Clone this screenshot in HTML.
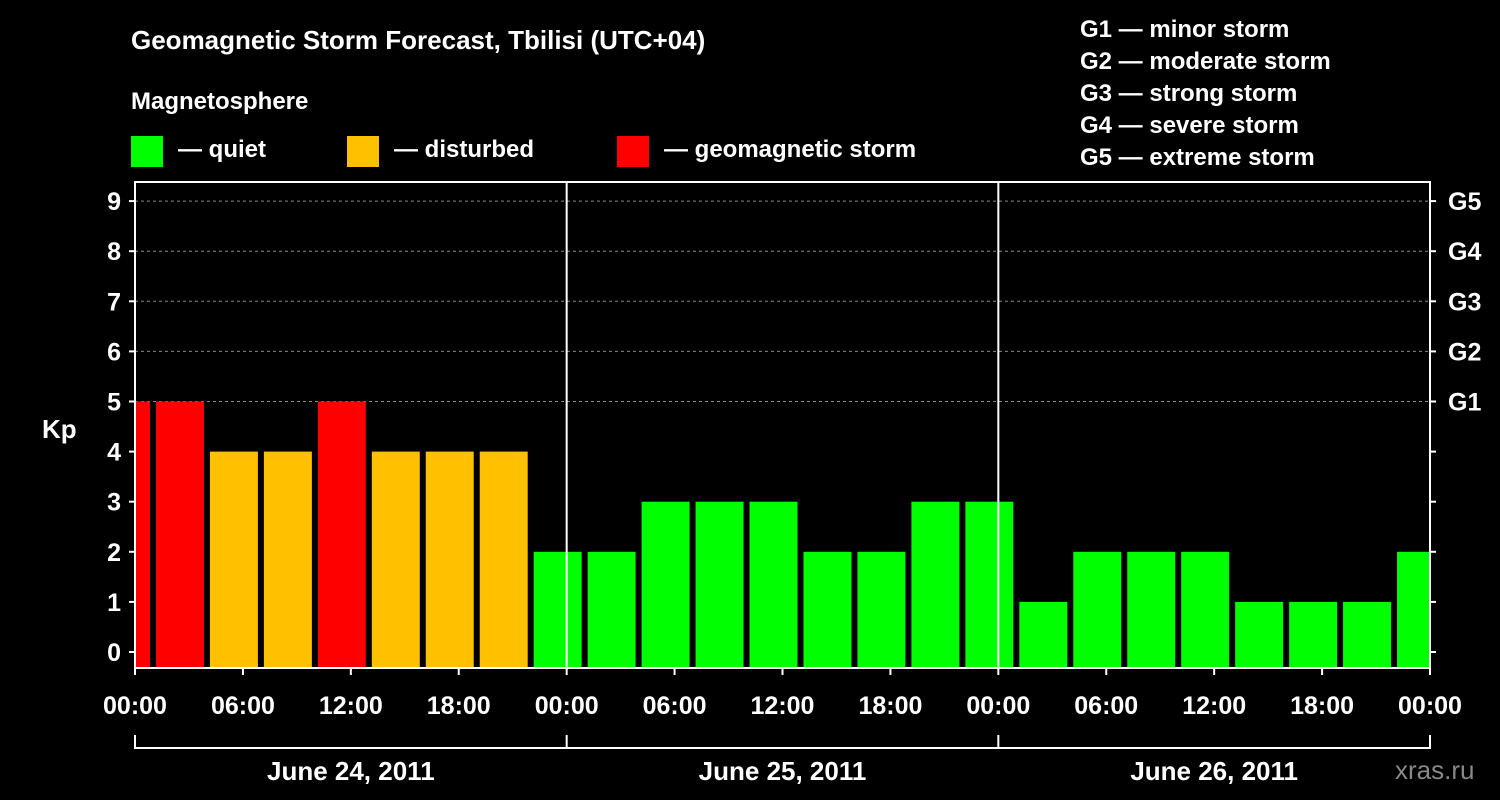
<!DOCTYPE html>
<html><head><meta charset="utf-8"><style>
html,body{margin:0;padding:0;background:#000;}
svg{display:block;font-family:"Liberation Sans",Arial,sans-serif;font-weight:bold;}
</style></head><body>
<svg id="chart" width="1500" height="800" viewBox="0 0 1500 800" xmlns="http://www.w3.org/2000/svg">
<rect width="1500" height="800" fill="#000"/>
<text x="131" y="49" fill="#fff" font-size="26">Geomagnetic Storm Forecast, Tbilisi (UTC+04)</text>
<text x="131" y="109" fill="#fff" font-size="24">Magnetosphere</text>
<g><rect x="131" y="136" width="32" height="31" fill="#00ff00"/><text x="178" y="157" fill="#fff" font-size="24">— quiet</text></g>
<g><rect x="347" y="136" width="32" height="31" fill="#ffc000"/><text x="394" y="157" fill="#fff" font-size="24">— disturbed</text></g>
<g><rect x="617" y="136" width="32" height="31" fill="#ff0000"/><text x="664" y="157" fill="#fff" font-size="24">— geomagnetic storm</text></g>
<g fill="#fff" font-size="24">
<text x="1080" y="37">G1 — minor storm</text>
<text x="1080" y="69">G2 — moderate storm</text>
<text x="1080" y="101">G3 — strong storm</text>
<text x="1080" y="133">G4 — severe storm</text>
<text x="1080" y="165">G5 — extreme storm</text>
</g>
<text x="42" y="438" fill="#fff" font-size="26">Kp</text>
<g id="grid"></g><g id="bars"></g><g id="axes"></g>
<text x="1395" y="779" fill="#888" font-size="26" font-weight="normal">xras.ru</text>
</svg>
<script>
const kpValues=[5,5,4,4,5,4,4,4,2,2,3,3,3,2,2,3,3,1,2,2,2,1,1,1,2];
const firstStartHour=-2;
const intervalHours=3;
const yTicks=[0,1,2,3,4,5,6,7,8,9];
const gLabels=["G1","G2","G3","G4","G5"];
const xTickLabels=["00:00","06:00","12:00","18:00"];
const dayLabels=["June 24, 2011","June 25, 2011","June 26, 2011"];
const NS="http://www.w3.org/2000/svg";
const L=135,R=1430,T=182,B=668,totalHours=72;
const x=h=>L+h*(R-L)/totalHours;
const y=v=>652-v*50.1;
function mk(p,tag,a){const e=document.createElementNS(NS,tag);for(const k in a)e.setAttribute(k,a[k]);p.appendChild(e);return e;}
const grid=document.getElementById('grid'),bars=document.getElementById('bars'),axes=document.getElementById('axes');
yTicks.forEach(v=>{if(v>=5){const l=mk(grid,'line',{x1:L,x2:R,y1:y(v),y2:y(v),stroke:'#888','stroke-dasharray':'3,3','stroke-width':1});

}});
kpValues.forEach((v,i)=>{const s=firstStartHour+i*intervalHours;let x0=x(s)+3,x1=x(s+intervalHours)-3;x0=Math.max(x0,L);x1=Math.min(x1,R);
const c=v>=5?'#ff0000':(v>=4?'#ffc000':'#00ff00');
const r=mk(bars,'rect',{x:x0,y:y(v),width:x1-x0,height:B-y(v),fill:c});

});
for(let d=1;d<3;d++){mk(axes,'line',{x1:x(d*24),x2:x(d*24),y1:T,y2:B,stroke:'#fff','stroke-width':2});}
const frame=mk(axes,'rect',{x:L,y:T,width:R-L,height:B-T,fill:'none',stroke:'#fff','stroke-width':2});


yTicks.forEach(v=>{mk(axes,'line',{x1:L-6,x2:L,y1:y(v),y2:y(v),stroke:'#fff','stroke-width':2});
mk(axes,'line',{x1:R,x2:R+6,y1:y(v),y2:y(v),stroke:'#fff','stroke-width':2});
const t=mk(axes,'text',{x:L-14,y:y(v)+9,fill:'#fff','font-size':25,'text-anchor':'end'});t.textContent=v;


if(v>=5){const g=mk(axes,'text',{x:R+18,y:y(v)+9,fill:'#fff','font-size':25});g.textContent=gLabels[v-5];

}});
for(let h=0;h<=72;h+=6){mk(axes,'line',{x1:x(h),x2:x(h),y1:B,y2:B+7,stroke:'#fff','stroke-width':2});
const t=mk(axes,'text',{x:x(h),y:714,fill:'#fff','font-size':25,'text-anchor':'middle'});t.textContent=xTickLabels[(h/6)%4];

}
mk(axes,'line',{x1:L,x2:R,y1:748,y2:748,stroke:'#fff','stroke-width':2});
for(let d=0;d<=3;d++)mk(axes,'line',{x1:x(d*24),x2:x(d*24),y1:735,y2:749,stroke:'#fff','stroke-width':2});
dayLabels.forEach((s,i)=>{const t=mk(axes,'text',{x:x(i*24+12),y:780,fill:'#fff','font-size':26,'text-anchor':'middle'});t.textContent=s;

});
</script>
</body></html>
